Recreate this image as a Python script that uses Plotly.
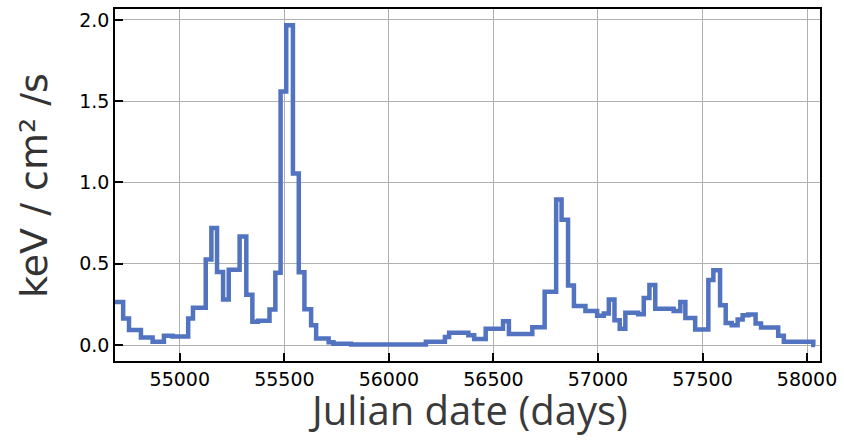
import plotly.graph_objects as go

# Bin edges (Julian date, days) and step values (keV / cm^2 / s)
bin_edges = [54690, 54729, 54757, 54814, 54870, 54924, 54965, 55040, 55063, 55124,
             55151, 55178, 55207, 55234, 55286, 55318, 55347, 55374, 55429, 55457,
             55482, 55509, 55541, 55569, 55596, 55628, 55652, 55712, 55735, 55819,
             56177, 56268, 56288, 56380, 56408, 56463, 56546, 56574, 56686, 56745,
             56800, 56826, 56857, 56885, 56940, 56996, 57028, 57052, 57079, 57104,
             57131, 57192, 57219, 57246, 57274, 57362, 57394, 57418, 57465, 57528,
             57552, 57584, 57611, 57640, 57668, 57692, 57719, 57754, 57780, 57862,
             57889, 58030, 58039]
flux = [0.265, 0.163, 0.092, 0.047, 0.02, 0.057, 0.052, 0.163, 0.23, 0.526,
        0.72, 0.45, 0.28, 0.463, 0.667, 0.31, 0.143, 0.15, 0.218, 0.445,
        1.56, 1.967, 1.056, 0.448, 0.22, 0.122, 0.04, 0.018, 0.008, 0.003,
        0.02, 0.05, 0.075, 0.06, 0.037, 0.10, 0.147, 0.068, 0.11, 0.328,
        0.895, 0.77, 0.367, 0.24, 0.21, 0.18, 0.194, 0.28, 0.153, 0.10,
        0.198, 0.19, 0.29, 0.37, 0.224, 0.21, 0.265, 0.167, 0.096, 0.40,
        0.46, 0.245, 0.136, 0.122, 0.157, 0.183, 0.188, 0.133, 0.108, 0.057,
        0.02, 0.0]

x_ticks = [55000, 55500, 56000, 56500, 57000, 57500, 58000]
y_ticks = [0.0, 0.5, 1.0, 1.5, 2.0]
y_ticklabels = ["0.0", "0.5", "1.0", "1.5", "2.0"]

xs = bin_edges
ys = flux + [flux[-1]]

fig = go.Figure()
fig.add_trace(go.Scatter(x=xs, y=ys, mode="lines", line_shape="hv",
                         line=dict(color="#5273c0", width=4.5), showlegend=False))

axis_common = dict(showgrid=True, gridcolor="#b0b0b0", gridwidth=1,
                   showline=True, linecolor="black", linewidth=1.5, mirror=True,
                   ticks="inside", ticklen=8, tickwidth=1.5, tickcolor="black",
                   zeroline=False,
                   tickfont=dict(family="DejaVu Sans", size=19, color="black"))

fig.update_xaxes(range=[54690, 58062], tickvals=x_ticks,
                 ticktext=[str(t) for t in x_ticks], **axis_common)
fig.update_yaxes(range=[-0.098, 2.067], tickvals=y_ticks, ticktext=y_ticklabels,
                 **axis_common)

fig.add_annotation(text="Julian date (days)", xref="paper", yref="paper",
                   x=0.5, y=-0.222, xanchor="center", yanchor="bottom",
                   showarrow=False,
                   font=dict(family="Open Sans", size=40, color="#3a3a3a"))
fig.add_annotation(text="keV / cm² /s", xref="paper", yref="paper",
                   x=-0.115, y=0.5, xanchor="center", yanchor="middle",
                   textangle=-90, showarrow=False,
                   font=dict(family="DejaVu Sans", size=38, color="#333333"))

fig.update_layout(width=844, height=441, margin=dict(l=115, r=22, t=7, b=80),
                  plot_bgcolor="white", paper_bgcolor="white")

fig.write_html("out.html")
